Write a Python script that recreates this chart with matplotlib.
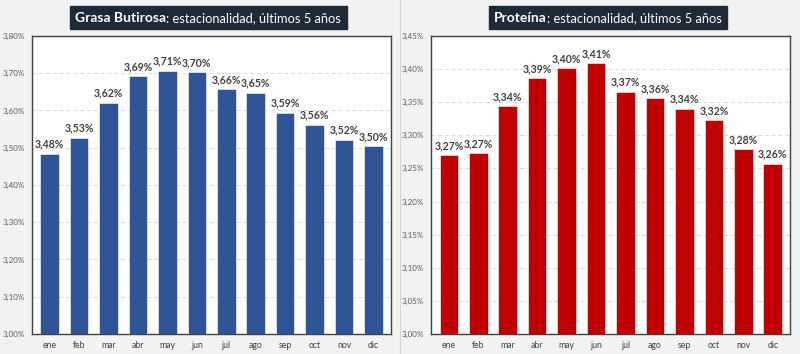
import numpy as np
import matplotlib
matplotlib.use('Agg')
import matplotlib.pyplot as plt
from matplotlib.offsetbox import TextArea, HPacker, AnchoredOffsetbox
from matplotlib.lines import Line2D

plt.rcParams['font.family'] = ['Lato', 'DejaVu Sans']

# Data
meses = ['ene', 'feb', 'mar', 'abr', 'may', 'jun', 'jul', 'ago', 'sep', 'oct', 'nov', 'dic']
grasa = [3.484, 3.527, 3.620, 3.692, 3.706, 3.702, 3.657, 3.648, 3.594, 3.561, 3.522, 3.504]
proteina = [3.270, 3.273, 3.344, 3.386, 3.401, 3.409, 3.366, 3.356, 3.340, 3.323, 3.279, 3.257]

fig = plt.figure(figsize=(8, 3.54), dpi=100)
fig.patch.set_facecolor('#f2f2f2')


def panel(rect, values, color, ymax, step, bold, rest):
    ax = fig.add_axes(rect)
    ax.set_facecolor('white')
    x = np.arange(len(meses))
    ax.bar(x, [v - 3.0 for v in values], bottom=3.0, width=0.63, color=color,
           edgecolor='white', linewidth=0.4, zorder=3)
    ax.set_xlim(-0.6, len(meses) - 0.4)
    ax.set_ylim(3.0, ymax)
    ticks = np.arange(3.0, ymax + step / 2, step)
    ax.set_yticks(ticks)
    ax.set_yticklabels([f'{t:.2f}%'.replace('.', ',') for t in ticks],
                       fontsize=5.8, color='#595959')
    ax.set_xticks(x)
    ax.set_xticklabels(meses, fontsize=6.2, color='#404040')
    ax.tick_params(axis='y', length=0, pad=5)
    ax.tick_params(axis='x', length=0, pad=5)
    ax.grid(axis='y', linestyle=(0, (4, 3)), color='#d9d9d9', linewidth=0.7, zorder=0)
    for s in ax.spines.values():
        s.set_color('#404040')
        s.set_linewidth(1.0)
    for xi, v in zip(x, values):
        ax.annotate(f'{v:.2f}%'.replace('.', ','), (xi, v), xytext=(0, 3),
                    textcoords='offset points', ha='center', va='bottom',
                    fontsize=7.6, fontweight='bold', color='#404040')

    # title box
    t1 = TextArea(bold, textprops=dict(color='white', fontsize=10, fontweight='bold'))
    t2 = TextArea(rest, textprops=dict(color='white', fontsize=9.3))
    box = HPacker(children=[t1, t2], align='baseline', pad=0, sep=0)
    cx = rect[0] + rect[2] / 2 - 0.004
    anc = AnchoredOffsetbox(loc='upper center', child=box, pad=0.28, borderpad=0,
                            frameon=True, bbox_to_anchor=(cx, 0.978),
                            bbox_transform=fig.transFigure)
    anc.patch.set_facecolor('#1e2a37')
    anc.patch.set_edgecolor('#1e2a37')
    anc.patch.set_boxstyle('square', pad=0.1)
    fig.add_artist(anc)
    return ax


panel([0.040, 0.0565, 0.449, 0.842], grasa, '#2f5597', 3.80, 0.10,
      'Grasa Butirosa', ': estacionalidad, últimos 5 años')
panel([0.539, 0.0565, 0.449, 0.842], proteina, '#c00000', 3.45, 0.05,
      'Proteína', ': estacionalidad, últimos 5 años')

fig.add_artist(Line2D([0.5, 0.5], [0, 1], transform=fig.transFigure,
                      color='#d4d4d4', linewidth=0.8))

fig.savefig('out.png', dpi=100, facecolor=fig.get_facecolor())
